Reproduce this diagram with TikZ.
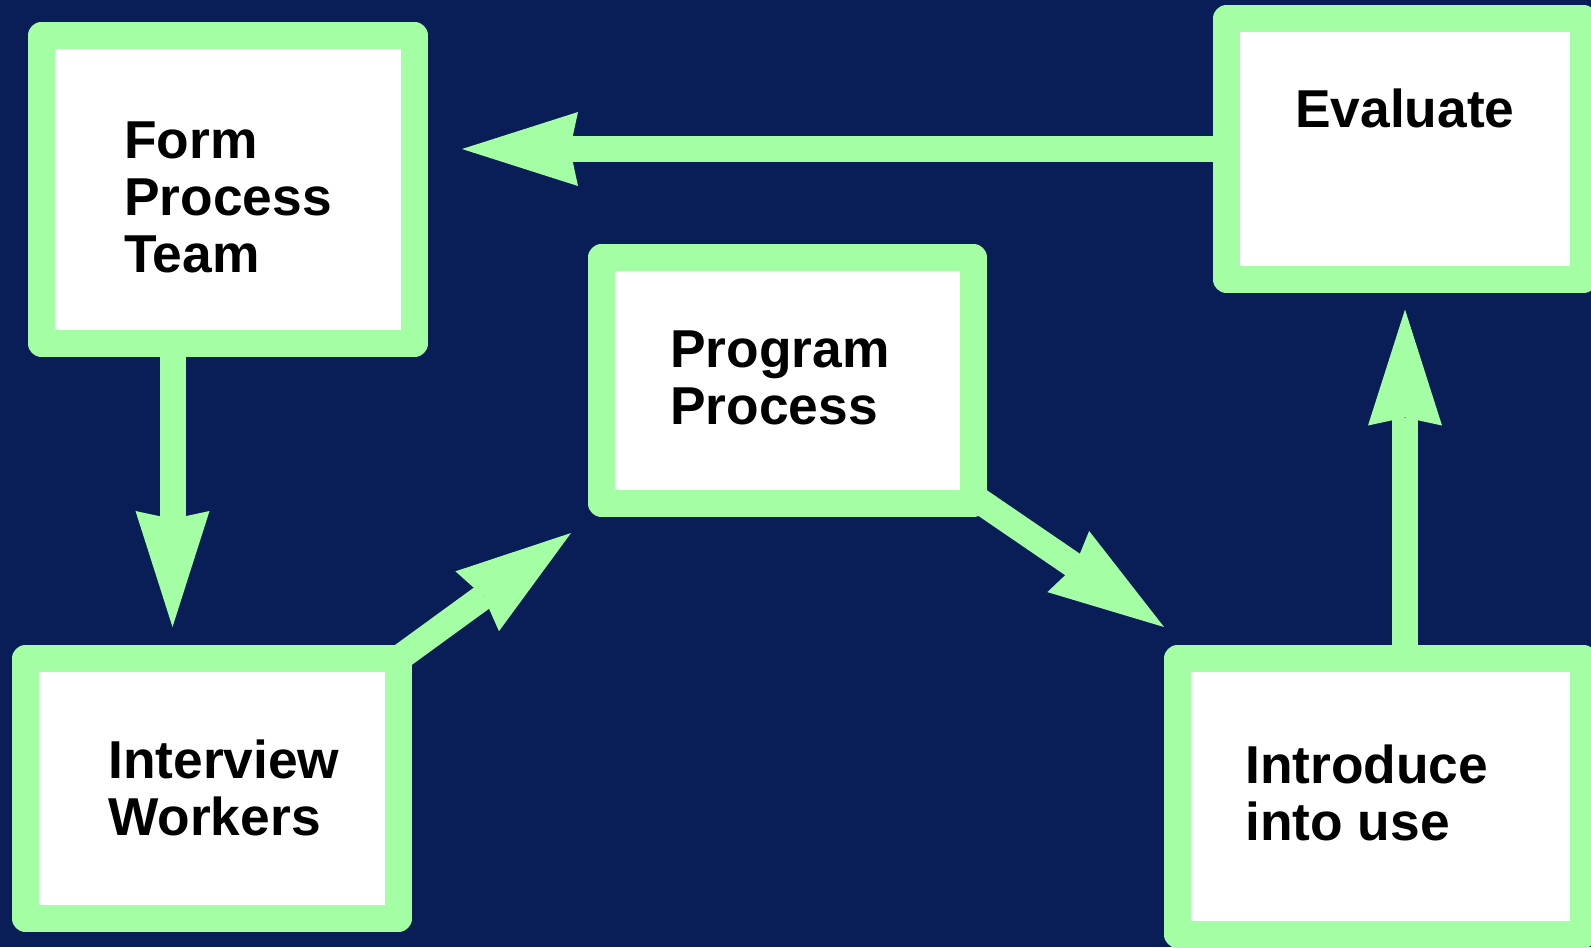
\documentclass[tikz,border=0pt]{standalone}
\usepackage{fontspec}
\setmainfont{Liberation Sans}
\usetikzlibrary{arrows.meta,calc}
\definecolor{navyback}{RGB}{9,29,87}
\definecolor{palegreen}{RGB}{164,255,164}

\tikzset{
  stepbox/.style={draw=palegreen, fill=white, line width=20.25pt, line join=round, inner sep=0pt, outer sep=0pt},
  boxtext/.style={anchor=base west, align=left, inner sep=0pt, font=\fontsize{40pt}{42.75pt}\selectfont\bfseries},
  flow/.style={draw=palegreen, line width=19.5pt, -{Stealth[length=87pt,width=55.5pt,inset=6pt,line width=0pt]}},
}

\begin{document}
\begin{tikzpicture}[x=0.75pt,y=0.75pt,yscale=-1,xscale=1]
%background, 1591 x 947
\fill[navyback] (0,0) rectangle (1591,947);
\useasboundingbox (0,0) rectangle (1591,947);

% Boxes
\node[stepbox, minimum width=279.75pt, minimum height=231pt] (form) at (228,189.5) {};
\node[stepbox, minimum width=279pt, minimum height=184.5pt] (prog) at (787.5,380.5) {};
\node[stepbox, minimum width=267.75pt, minimum height=195.75pt] (eval) at (1405,149) {};
\node[stepbox, minimum width=279.75pt, minimum height=195pt] (intv) at (212,788.5) {};
\node[stepbox, minimum width=304.5pt, minimum height=207pt] (intro) at (1380.5,796.5) {};

% Text Nodes (base = last line)
\node[boxtext] (formtext) at (124,272) {Form\\Process\\Team};
\node[boxtext] (progtext) at (670,424) {Program\\Process};
\node[boxtext] (evaltext) at (1295,127) {Evaluate};
\node[boxtext] (intvtext) at (108,835) {Interview\\Workers};
\node[boxtext] (introtext) at (1245,840) {Introduce\\into use};

% Connectors
\draw[flow] (eval.west) -- ($(form.east |- eval.west)+(47.5,0)$);
\draw[flow] ($(form.south)+(-55.5,0)$) -- ($(intv.north)+(-39.5,-31.5)$);
\draw[flow] (intv.north east) -- ($(prog.south west)+(-30.5,29.5)$);
\draw[flow] ($(prog.south east)+(4,-4)$) -- ($(intro.north west)+(-13.5,-31.5)$);
\draw[flow] (intro.north -| eval.south) -- ($(eval.south)+(0,30)$);

\end{tikzpicture}
\end{document}
